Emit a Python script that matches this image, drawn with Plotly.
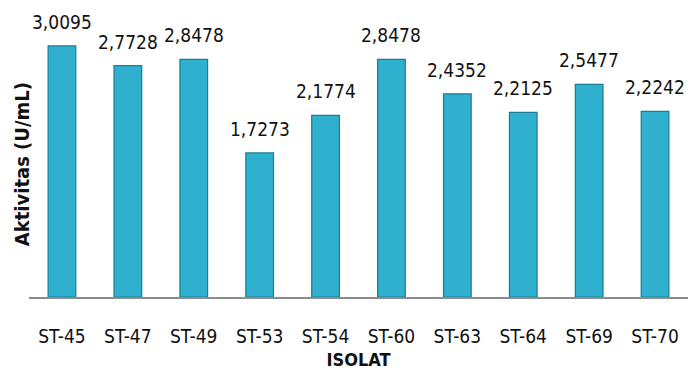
import plotly.graph_objects as go

categories = ["ST-45", "ST-47", "ST-49", "ST-53", "ST-54", "ST-60", "ST-63", "ST-64", "ST-69", "ST-70"]
values = [3.0095, 2.7728, 2.8478, 1.7273, 2.1774, 2.8478, 2.4352, 2.2125, 2.5477, 2.2242]
labels = [f"{v:.4f}".replace(".", ",") for v in values]

FONT = "DejaVu Sans Condensed, Roboto, sans-serif"

fig = go.Figure(go.Bar(
    x=categories, y=values,
    marker=dict(color="#2fb0cf", line=dict(color="#1a7c95", width=1.2)),
    cliponaxis=False, hoverinfo="x+y",
))

for c, v, t in zip(categories, values, labels):
    fig.add_annotation(x=c, y=v, text=t, showarrow=False, yanchor="bottom", yshift=11,
                       font=dict(family=FONT, size=19, color="#111"))

# y-axis title placed as a rotated annotation (offset downward like the original)
fig.add_annotation(x=0, y=0.455, xref="paper", yref="paper", xshift=-7,
                   text="<b>Aktivitas (U/mL)</b>", textangle=-90, showarrow=False,
                   xanchor="center", yanchor="middle",
                   font=dict(family=FONT, size=20, color="#111"))

fig.update_layout(
    width=688, height=370,
    margin=dict(l=29, r=0, t=5, b=73),
    plot_bgcolor="white", paper_bgcolor="white",
    bargap=0.58, showlegend=False,
    xaxis=dict(
        showline=True, linecolor="#8c8c8c", linewidth=2,
        ticks="", ticklabelstandoff=21,
        tickfont=dict(family=FONT, size=19, color="#111"),
        title=dict(text="<b>ISOLAT</b>", font=dict(family=FONT, size=18, color="#111"), standoff=11),
    ),
    yaxis=dict(
        range=[0, 3.5], showgrid=False, showticklabels=False, zeroline=False,
        showline=False, ticks="",
    ),
)

fig.write_html("out.html")
